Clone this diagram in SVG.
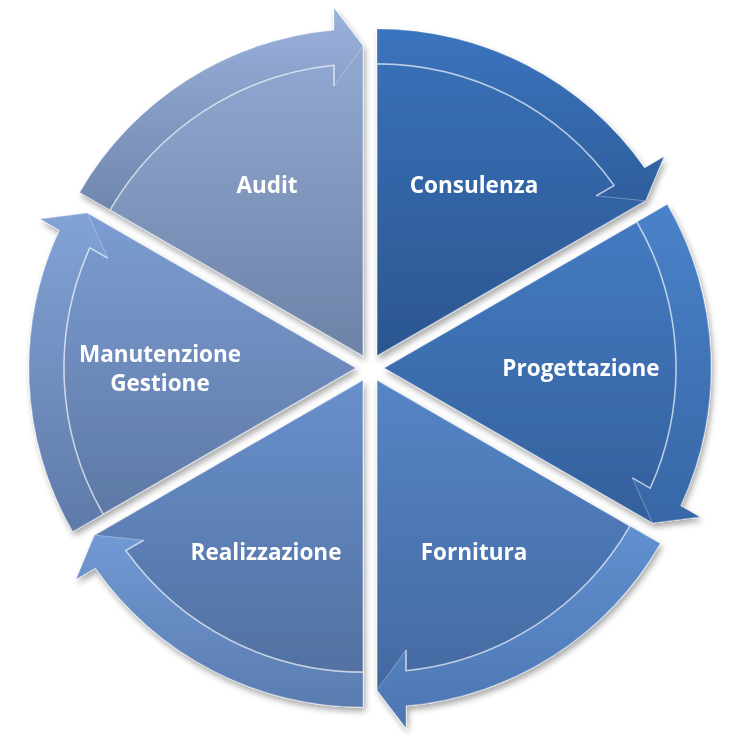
<svg xmlns="http://www.w3.org/2000/svg" width="741" height="742" viewBox="0 0 741 742">
<defs>
<style>
.lbl{font-family:"Open Sans","Liberation Sans",sans-serif;font-weight:700;font-size:22.5px;fill:#ffffff;text-anchor:middle}
.band{stroke:#ffffff;stroke-opacity:0.3;stroke-width:1}
.body{stroke:#ffffff;stroke-opacity:0.45;stroke-width:1.2}
.hl{fill:none;stroke:#ffffff;stroke-opacity:0.55;stroke-width:1.6}
</style>
<filter id="sh" x="-10%" y="-10%" width="130%" height="130%">
<feGaussianBlur in="SourceAlpha" stdDeviation="3"/>
<feOffset dx="2" dy="4" result="b"/>
<feComponentTransfer><feFuncA type="linear" slope="0.35"/></feComponentTransfer>
<feMerge><feMergeNode/><feMergeNode in="SourceGraphic"/></feMerge>
</filter>
<linearGradient id="g1" x1="0" y1="0" x2="0" y2="1"><stop offset="0" stop-color="#3a72bb"/><stop offset="1" stop-color="#2b568f"/></linearGradient>
<linearGradient id="g2" x1="0" y1="0" x2="0" y2="1"><stop offset="0" stop-color="#457cc3"/><stop offset="1" stop-color="#33609c"/></linearGradient>
<linearGradient id="g3" x1="0" y1="0" x2="0" y2="1"><stop offset="0" stop-color="#5585c6"/><stop offset="1" stop-color="#42669c"/></linearGradient>
<linearGradient id="g4" x1="0" y1="0" x2="0" y2="1"><stop offset="0" stop-color="#6890cc"/><stop offset="1" stop-color="#4f6d9c"/></linearGradient>
<linearGradient id="g5" x1="0" y1="0" x2="0" y2="1"><stop offset="0" stop-color="#7c9dd2"/><stop offset="1" stop-color="#5c76a2"/></linearGradient>
<linearGradient id="g6" x1="0" y1="0" x2="0" y2="1"><stop offset="0" stop-color="#96aed8"/><stop offset="1" stop-color="#6d82a7"/></linearGradient>
<linearGradient id="b1" x1="0" y1="0" x2="0" y2="1"><stop offset="0" stop-color="#3b74bf"/><stop offset="1" stop-color="#2f5e9c"/></linearGradient>
<linearGradient id="b2" x1="0" y1="0" x2="0" y2="1"><stop offset="0" stop-color="#4a82c9"/><stop offset="1" stop-color="#3767a6"/></linearGradient>
<linearGradient id="b3" x1="0" y1="0" x2="0" y2="1"><stop offset="0" stop-color="#6090d0"/><stop offset="1" stop-color="#4c76b2"/></linearGradient>
<linearGradient id="b4" x1="0" y1="0" x2="0" y2="1"><stop offset="0" stop-color="#7199d4"/><stop offset="1" stop-color="#5a7cb0"/></linearGradient>
<linearGradient id="b5" x1="0" y1="0" x2="0" y2="1"><stop offset="0" stop-color="#82a3d6"/><stop offset="1" stop-color="#5f7aa8"/></linearGradient>
<linearGradient id="b6" x1="0" y1="0" x2="0" y2="1"><stop offset="0" stop-color="#9ab2dc"/><stop offset="1" stop-color="#6f86ad"/></linearGradient>
</defs>
<rect width="741" height="742" fill="#ffffff"/>
<g id="nodes" filter="url(#sh)">
<g id="consulenza">
<path class="body" fill="url(#g1)" d="M377,355.88 L377,28.88 A327,327 0 0 1 644.56,167.92 L663.88,156.77 L645.47,200.88 Z"/>
<text class="lbl" x="474" y="193">Consulenza</text>
</g>
<g id="progettazione">
<path class="body" fill="url(#g2)" d="M384,368 L667.19,204.5 A327,327 0 0 1 680.56,505.74 L699.88,516.89 L652.47,523 Z"/>
<text class="lbl" x="581" y="376">Progettazione</text>
</g>
<g id="fornitura">
<path class="body" fill="url(#g3)" d="M377,380.12 L660.19,543.62 A327,327 0 0 1 406,705.82 L406,728.12 L377,690.12 Z"/>
<text class="lbl" x="474" y="560">Fornitura</text>
</g>
<g id="realizzazione">
<path class="body" fill="url(#g4)" d="M363,380.12 L363,707.12 A327,327 0 0 1 95.44,568.08 L76.12,579.23 L94.53,535.12 Z"/>
<text class="lbl" x="266" y="560">Realizzazione</text>
</g>
<g id="manutenzione">
<path class="body" fill="url(#g5)" d="M356,368 L72.81,531.5 A327,327 0 0 1 59.44,230.26 L40.12,219.11 L87.53,213 Z"/>
<text class="lbl" x="160" y="362"><tspan x="160" y="362">Manutenzione</tspan><tspan x="160" y="391">Gestione</tspan></text>
</g>
<g id="audit">
<path class="body" fill="url(#g6)" d="M363,355.88 L79.81,192.38 A327,327 0 0 1 334,30.18 L334,7.88 L363,45.88 Z"/>
<text class="lbl" x="267" y="193">Audit</text>
</g>
</g>
<g id="connectors">
<path class="band" fill="url(#b1)" d="M377,28.88 A327,327 0 0 1 644.56,167.92 L663.88,156.77 L645.47,200.88 L596.33,195.77 L614.17,185.47 A292,292 0 0 0 377,63.88 Z"/>
<path class="hl" d="M377,63.88 A292,292 0 0 1 614.17,185.47 L596.33,195.77"/>
<path class="band" fill="url(#b2)" d="M667.19,204.5 A327,327 0 0 1 680.56,505.74 L699.88,516.89 L652.47,523 L632.33,477.89 L650.17,488.19 A292,292 0 0 0 636.88,222 Z"/>
<path class="hl" d="M636.88,222 A292,292 0 0 1 650.17,488.19 L632.33,477.89"/>
<path class="band" fill="url(#b3)" d="M660.19,543.62 A327,327 0 0 1 406,705.82 L406,728.12 L377,690.12 L406,650.12 L406,670.72 A292,292 0 0 0 629.88,526.12 Z"/>
<path class="hl" d="M629.88,526.12 A292,292 0 0 1 406,670.72 L406,650.12"/>
<path class="band" fill="url(#b4)" d="M363,707.12 A327,327 0 0 1 95.44,568.08 L76.12,579.23 L94.53,535.12 L143.67,540.23 L125.83,550.53 A292,292 0 0 0 363,672.12 Z"/>
<path class="hl" d="M363,672.12 A292,292 0 0 1 125.83,550.53 L143.67,540.23"/>
<path class="band" fill="url(#b5)" d="M72.81,531.5 A327,327 0 0 1 59.44,230.26 L40.12,219.11 L87.53,213 L107.67,258.11 L89.83,247.81 A292,292 0 0 0 103.12,514 Z"/>
<path class="hl" d="M103.12,514 A292,292 0 0 1 89.83,247.81 L107.67,258.11"/>
<path class="band" fill="url(#b6)" d="M79.81,192.38 A327,327 0 0 1 334,30.18 L334,7.88 L363,45.88 L334,85.88 L334,65.28 A292,292 0 0 0 110.12,209.88 Z"/>
<path class="hl" d="M110.12,209.88 A292,292 0 0 1 334,65.28 L334,85.88"/>
</g>
</svg>
